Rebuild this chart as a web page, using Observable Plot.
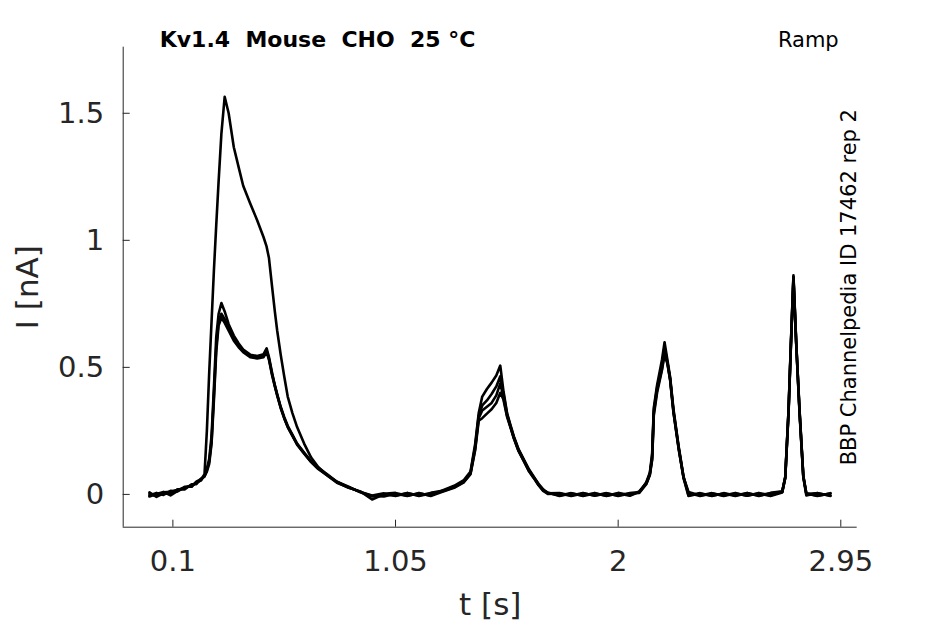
<!DOCTYPE html>
<html>
<head>
<meta charset="utf-8">
<script src="https://cdn.jsdelivr.net/npm/d3@7"></script>
<script src="https://cdn.jsdelivr.net/npm/@observablehq/plot@0.6"></script>
<style>
  html, body { margin: 0; padding: 0; background: #fff; }
  #chart { width: 945px; height: 624px; }
</style>
</head>
<body>
<div id="chart"></div>
<script>
// ---- data ----
const time = [
  0.00, 0.03, 0.06, 0.09, 0.12, 0.15, 0.18, 0.20, 0.22, 0.235,
  0.245, 0.255, 0.265, 0.275, 0.285, 0.295, 0.307, 0.321, 0.338, 0.36,
  0.38, 0.40, 0.43, 0.46, 0.487, 0.50, 0.51, 0.523, 0.535, 0.545,
  0.56, 0.575, 0.59, 0.61, 0.63, 0.66, 0.69, 0.72, 0.76, 0.80,
  0.85, 0.90, 0.95, 1.00, 1.05, 1.10, 1.15, 1.20, 1.25, 1.30,
  1.34, 1.37, 1.39, 1.405, 1.42, 1.44, 1.46, 1.48, 1.497, 1.51,
  1.526, 1.54, 1.555, 1.575, 1.60, 1.62, 1.64, 1.66, 1.68, 1.70,
  1.75, 1.80, 1.85, 1.90, 1.95, 2.00, 2.05, 2.09, 2.12, 2.135,
  2.145, 2.152, 2.166, 2.187, 2.198, 2.21, 2.222, 2.236, 2.258, 2.279,
  2.30, 2.35, 2.40, 2.45, 2.50, 2.55, 2.60, 2.65, 2.70, 2.713,
  2.727, 2.737, 2.748, 2.76, 2.774, 2.79, 2.803, 2.85, 2.906
];

const sweepA = [
  0.002, -0.006, 0.008, 0.010, 0.018, 0.025, 0.036, 0.045, 0.058, 0.08,
  0.25, 0.48, 0.68, 0.88, 1.06, 1.23, 1.42, 1.565, 1.50, 1.366,
  1.29, 1.215, 1.145, 1.078, 1.012, 0.975, 0.93, 0.82, 0.72, 0.645,
  0.55, 0.465, 0.385, 0.32, 0.265, 0.20, 0.145, 0.108, 0.075, 0.05,
  0.028, 0.01, -0.004, 0.004, -0.006, 0.005, -0.004, 0.006, 0.014, 0.03,
  0.05, 0.085, 0.19, 0.31, 0.35, 0.37, 0.395, 0.425, 0.465, 0.40,
  0.315, 0.27, 0.225, 0.175, 0.13, 0.095, 0.068, 0.04, 0.018, 0.006,
  -0.004, 0.005, -0.006, 0.004, -0.005, 0.006, -0.003, 0.012, 0.045, 0.08,
  0.15, 0.33, 0.42, 0.51, 0.58, 0.52, 0.455, 0.33, 0.186, 0.068,
  0.01, -0.004, 0.005, -0.006, 0.004, -0.005, 0.006, -0.004, 0.01, 0.07,
  0.33, 0.59, 0.855, 0.59, 0.33, 0.075, 0.004, -0.005, 0.003
];

const sweepB = [
  -0.004, 0.006, -0.002, 0.014, 0.012, 0.028, 0.032, 0.048, 0.055, 0.075,
  0.10, 0.14, 0.23, 0.42, 0.62, 0.71, 0.753, 0.72, 0.67, 0.625,
  0.595, 0.57, 0.55, 0.545, 0.552, 0.575, 0.54, 0.48, 0.43, 0.395,
  0.345, 0.305, 0.27, 0.235, 0.20, 0.165, 0.13, 0.105, 0.078, 0.05,
  0.03, 0.008, -0.008, 0.002, 0.006, -0.005, 0.004, -0.004, 0.016, 0.034,
  0.055, 0.09, 0.20, 0.32, 0.385, 0.415, 0.44, 0.468, 0.507, 0.41,
  0.32, 0.275, 0.228, 0.178, 0.133, 0.098, 0.07, 0.042, 0.02, 0.004,
  0.005, -0.004, 0.006, -0.005, 0.004, -0.004, 0.005, 0.008, 0.048, 0.085,
  0.16, 0.34, 0.43, 0.53, 0.599, 0.53, 0.46, 0.335, 0.19, 0.07,
  -0.004, 0.005, -0.005, 0.004, -0.006, 0.005, -0.004, 0.006, 0.012, 0.068,
  0.33, 0.595, 0.862, 0.595, 0.33, 0.072, 0.002, 0.004, -0.004
];

const sweepC = [
  0.008, -0.01, 0.004, 0.002, 0.02, 0.02, 0.04, 0.04, 0.062, 0.07,
  0.095, 0.13, 0.21, 0.39, 0.58, 0.68, 0.711, 0.69, 0.655, 0.61,
  0.585, 0.565, 0.545, 0.54, 0.545, 0.565, 0.535, 0.475, 0.428, 0.392,
  0.342, 0.30, 0.266, 0.232, 0.198, 0.162, 0.128, 0.102, 0.075, 0.048,
  0.026, 0.012, -0.02, 0.0, -0.004, 0.006, -0.006, 0.004, 0.012, 0.028,
  0.048, 0.082, 0.18, 0.30, 0.33, 0.345, 0.36, 0.39, 0.437, 0.385,
  0.31, 0.268, 0.222, 0.172, 0.128, 0.092, 0.066, 0.038, 0.016, 0.008,
  -0.006, 0.004, -0.004, 0.006, -0.006, 0.004, -0.005, 0.01, 0.042, 0.078,
  0.14, 0.32, 0.41, 0.495, 0.56, 0.52, 0.45, 0.325, 0.182, 0.066,
  0.006, -0.006, 0.004, -0.004, 0.006, -0.005, 0.004, -0.006, 0.008, 0.066,
  0.325, 0.585, 0.845, 0.59, 0.325, 0.07, 0.004, -0.006, 0.005
];

const sweepD = [
  -0.008, 0.002, 0.01, -0.004, 0.014, 0.03, 0.03, 0.05, 0.06, 0.072,
  0.09, 0.12, 0.20, 0.37, 0.56, 0.665, 0.695, 0.675, 0.645, 0.605,
  0.58, 0.56, 0.54, 0.535, 0.54, 0.56, 0.53, 0.47, 0.425, 0.39,
  0.34, 0.30, 0.265, 0.23, 0.196, 0.16, 0.127, 0.10, 0.074, 0.046,
  0.027, 0.01, -0.006, -0.008, 0.003, -0.006, 0.006, -0.006, 0.01, 0.026,
  0.046, 0.08, 0.175, 0.29, 0.30, 0.318, 0.335, 0.36, 0.40, 0.375,
  0.305, 0.265, 0.22, 0.17, 0.126, 0.09, 0.064, 0.036, 0.014, 0.002,
  0.004, -0.006, 0.004, -0.004, 0.005, -0.006, 0.004, 0.006, 0.04, 0.075,
  0.135, 0.31, 0.40, 0.49, 0.55, 0.515, 0.448, 0.322, 0.18, 0.064,
  -0.006, 0.004, -0.006, 0.005, -0.004, 0.006, -0.006, 0.004, 0.01, 0.064,
  0.32, 0.58, 0.855, 0.585, 0.32, 0.068, -0.004, 0.006, -0.006
];

const sweepNames = ["sweep 1", "sweep 2", "sweep 3", "sweep 4"];
const xTicks = [0.1, 1.05, 2, 2.95];
const yTicks = [0, 0.5, 1, 1.5];
const xDomain = [-0.112, 3.02];
const yDomain = [-0.129, 1.76];
const titleText = "Kv1.4  Mouse  CHO  25 °C";
const protocolText = "Ramp";
const sideText = "BBP Channelpedia ID 17462 rep 2";
const xLabel = "t [s]";
const yLabel = "I [nA]";

// ---- build rows ----
const sweeps = [sweepA, sweepB, sweepC, sweepD];
const rows = [];
sweeps.forEach((vals, k) => {
  time.forEach((tt, i) => rows.push({t: tt, I: vals[i], sweep: sweepNames[k]}));
});

const W = 945, H = 624;
const mL = 122.7, mR = 88.3, mT = 46.7, mB = 97.3;
const plotW = W - mL - mR, plotH = H - mT - mB;
const axisColor = "#262626";

const chart = Plot.plot({
  width: W,
  height: H,
  marginLeft: mL,
  marginRight: mR,
  marginTop: mT,
  marginBottom: mB,
  style: {fontFamily: "DejaVu Sans", fontSize: "29px", color: axisColor, background: "white", overflow: "visible"},
  x: {domain: xDomain, ticks: xTicks, tickSize: 0, tickPadding: 23, label: null, tickFormat: d => String(d)},
  y: {domain: yDomain, ticks: yTicks, tickSize: 0, tickPadding: 19, label: null, tickFormat: d => String(d)},
  marks: [
    Plot.ruleX([xDomain[0]], {stroke: axisColor, strokeWidth: 1}),
    Plot.ruleY([yDomain[0]], {stroke: axisColor, strokeWidth: 1}),
    Plot.tickX(xTicks, {x: d => d, insetTop: plotH - 7, stroke: axisColor}),
    Plot.tickY(yTicks, {y: d => d, insetRight: plotW - 7, stroke: axisColor}),
    Plot.line(rows, {x: "t", y: "I", z: "sweep", stroke: "black", strokeWidth: 2.6, strokeLinejoin: "round"}),
    Plot.text([titleText], {frameAnchor: "top-left", dx: 36.5, dy: -7, textAnchor: "start", lineAnchor: "middle", fontSize: 22, fontWeight: "bold", fill: "black"}),
    Plot.text([protocolText], {frameAnchor: "top-right", dx: -18.5, dy: -7, textAnchor: "end", lineAnchor: "middle", fontSize: 21, fill: "black"}),
    Plot.text([sideText], {frameAnchor: "right", dx: -7.7, rotate: -90, textAnchor: "middle", lineAnchor: "middle", fontSize: 21, fill: "black"}),
    Plot.text([yLabel], {frameAnchor: "left", dx: -95, rotate: -90, textAnchor: "middle", lineAnchor: "middle", fontSize: 31, fill: axisColor}),
    Plot.text([xLabel], {frameAnchor: "bottom", dy: 78, textAnchor: "middle", lineAnchor: "middle", fontSize: 31, fill: axisColor})
  ]
});
document.getElementById("chart").appendChild(chart);
</script>
</body>
</html>
